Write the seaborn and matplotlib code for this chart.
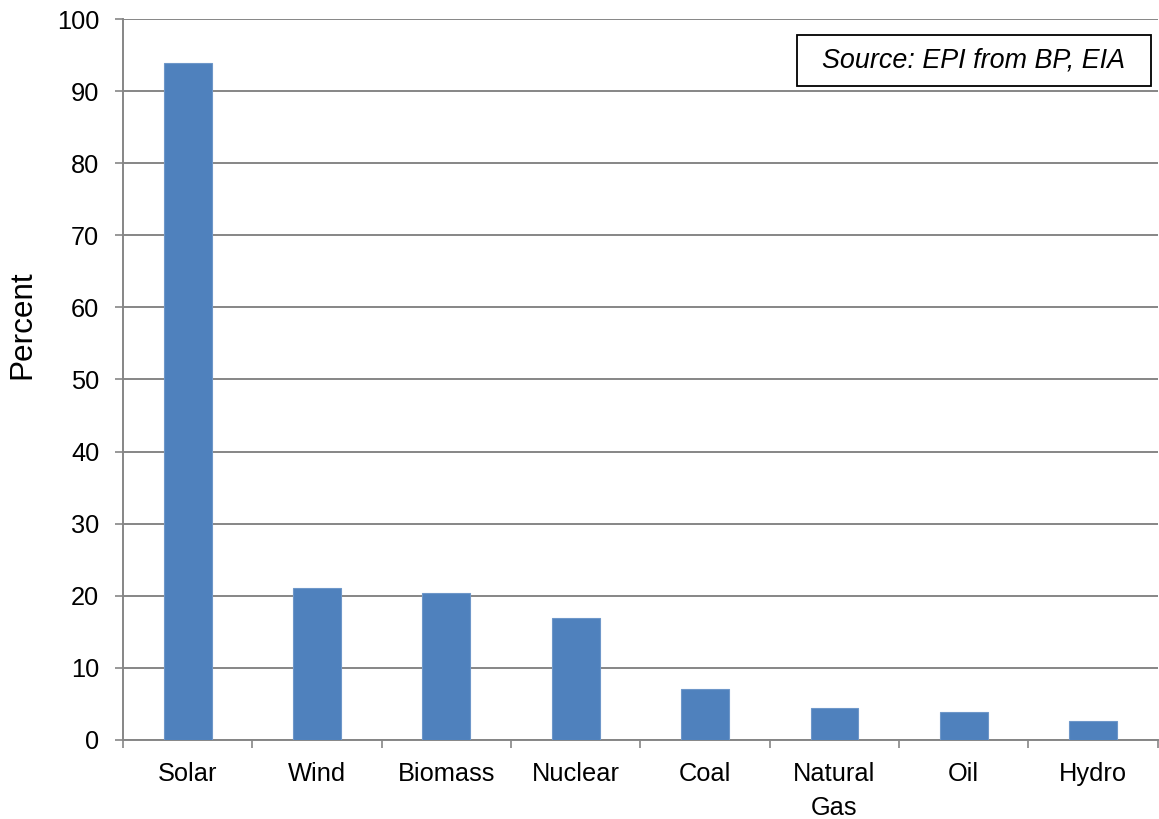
import numpy as np
import matplotlib
matplotlib.use("Agg")
import matplotlib.pyplot as plt
from matplotlib.patches import Rectangle
import seaborn as sns

# data
sources = ["Solar", "Wind", "Biomass", "Nuclear", "Coal", "Natural\nGas", "Oil", "Hydro"]
percent = [93.9, 21.1, 20.4, 16.9, 7.0, 4.4, 3.85, 2.7]

sns.set_style("white")
plt.rcParams["font.family"] = ["Liberation Sans", "DejaVu Sans"]
plt.rcParams["text.color"] = "black"
plt.rcParams["xtick.color"] = "black"
plt.rcParams["ytick.color"] = "black"
plt.rcParams["axes.labelcolor"] = "black"

fig = plt.figure(figsize=(11.59, 8.19), dpi=100)
ax = fig.add_axes([0.1061, 0.0965, 0.8929, 0.8803])

sns.barplot(x=sources, y=percent, color="#4F81BD", width=0.37,
            saturation=1, edgecolor="#6E97C9", linewidth=0.8, ax=ax, zorder=3)

grid_col = "#868686"
ax.set_ylim(0, 100)
ax.set_xlim(-0.5, len(sources) - 0.5)
ax.set_yticks(np.arange(0, 101, 10))
ax.yaxis.grid(True, color=grid_col, linewidth=1.4, zorder=0)
ax.set_axisbelow(True)

# x ticks sit between categories
ax.set_xticks(np.arange(-0.5, len(sources), 1), minor=True)
ax.tick_params(axis="x", which="major", length=0, pad=16, labelsize=18.3)
ax.tick_params(axis="x", which="minor", length=6, width=1.2, color=grid_col,
               direction="out", bottom=True)
ax.tick_params(axis="y", length=6, width=1.2, color=grid_col, direction="out",
               left=True, labelsize=18.3, pad=11)
for lab in ax.get_xticklabels():
    lab.set_linespacing(1.5)

for side in ["top", "right"]:
    ax.spines[side].set_visible(False)
for side in ["left", "bottom"]:
    ax.spines[side].set_color(grid_col)
    ax.spines[side].set_linewidth(1.4)

# label sits a bit above the axis centre in the original
ax.set_ylabel("Percent", fontsize=22.7, labelpad=14, y=0.5756)
ax.set_xlabel("")

# source box
ax.add_patch(Rectangle((0.651, 0.907), 0.342, 0.0707, transform=ax.transAxes,
                       facecolor="white", edgecolor="black", linewidth=1.3,
                       zorder=5, clip_on=False))
ax.text(0.822, 0.9424, "Source: EPI from BP, EIA", transform=ax.transAxes,
        ha="center", va="center", fontsize=19.4, style="italic", zorder=6)

fig.savefig("out.png", dpi=100)
